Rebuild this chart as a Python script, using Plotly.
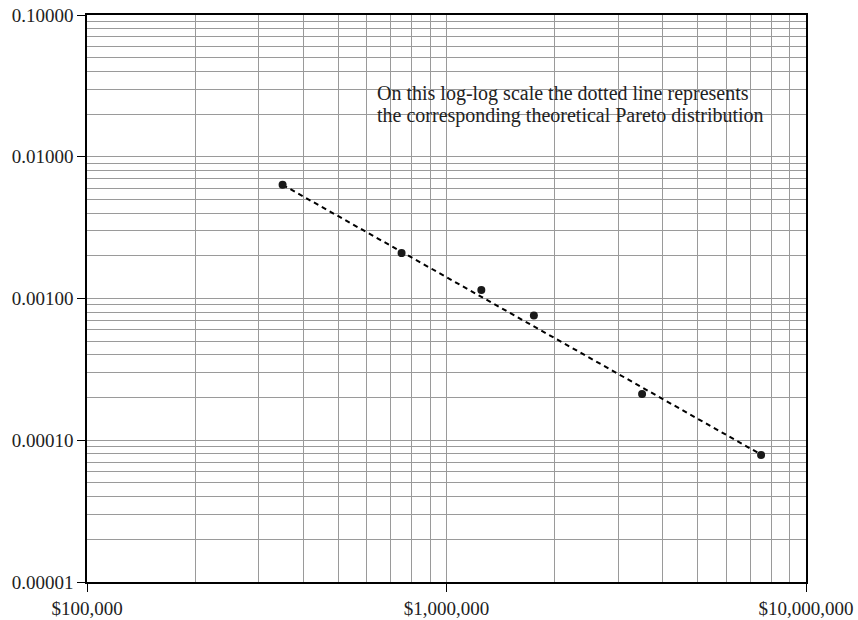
import plotly.graph_objects as go

# Observed income levels and the share of the population at each level
incomes = [350000, 750000, 1250000, 1750000, 3500000, 7500000]
density = [0.00634, 0.00209, 0.00115, 0.00076, 0.000212, 0.0000788]

# Theoretical Pareto distribution evaluated at the same incomes
pareto_fit = [0.00634, 0.00214, 0.00103, 0.000635, 0.000236, 0.0000793]

x_ticks = [1e5, 1e6, 1e7]
x_labels = ["$100,000", "$1,000,000", "$10,000,000"]
y_ticks = [1e-5, 1e-4, 1e-3, 1e-2, 1e-1]
y_labels = ["0.00001", "0.00010", "0.00100", "0.01000", "0.10000"]

note_lines = ["On this log-log scale the dotted line represents",
              "the corresponding theoretical Pareto distribution"]

FONT = "Liberation Serif"
GRID = "#9a9a9a"

fig = go.Figure()
fig.add_trace(go.Scatter(
    x=incomes, y=pareto_fit, mode="lines",
    line=dict(color="black", width=2, dash="5px,4px"),
    hoverinfo="skip", showlegend=False,
))
fig.add_trace(go.Scatter(
    x=incomes, y=density, mode="markers",
    marker=dict(color="#1a1a1a", size=8),
    showlegend=False,
))

axis_common = dict(
    type="log", automargin=False,
    showline=True, linecolor="black", linewidth=1.5, mirror=True,
    ticks="outside", ticklen=8, tickcolor="black", tickwidth=1,
    showgrid=True, gridcolor=GRID, gridwidth=1,
    zeroline=False,
    tickfont=dict(family=FONT, size=19, color="#222"),
    minor=dict(showgrid=True, gridcolor=GRID, gridwidth=1, ticks="", dtick="D1"),
)

fig.update_xaxes(range=[5, 7], tickmode="array", tickvals=x_ticks,
                 ticktext=x_labels, **axis_common)
fig.update_yaxes(range=[-5, -1], tickmode="array", tickvals=y_ticks,
                 ticktext=y_labels, **axis_common)

# Two-line note, each line placed separately for tighter leading
for line_text, ypos in zip(note_lines, [0.861, 0.823]):
    fig.add_annotation(
        x=0.4, y=ypos, xref="paper", yref="paper",
        xanchor="left", yanchor="middle", align="left",
        text=line_text, showarrow=False,
        font=dict(family=FONT, size=20, color="#222"),
    )

fig.update_layout(
    width=858, height=620,
    margin=dict(l=87, r=52, t=15, b=38),
    plot_bgcolor="white", paper_bgcolor="white",
)

fig.write_html("out.html")
